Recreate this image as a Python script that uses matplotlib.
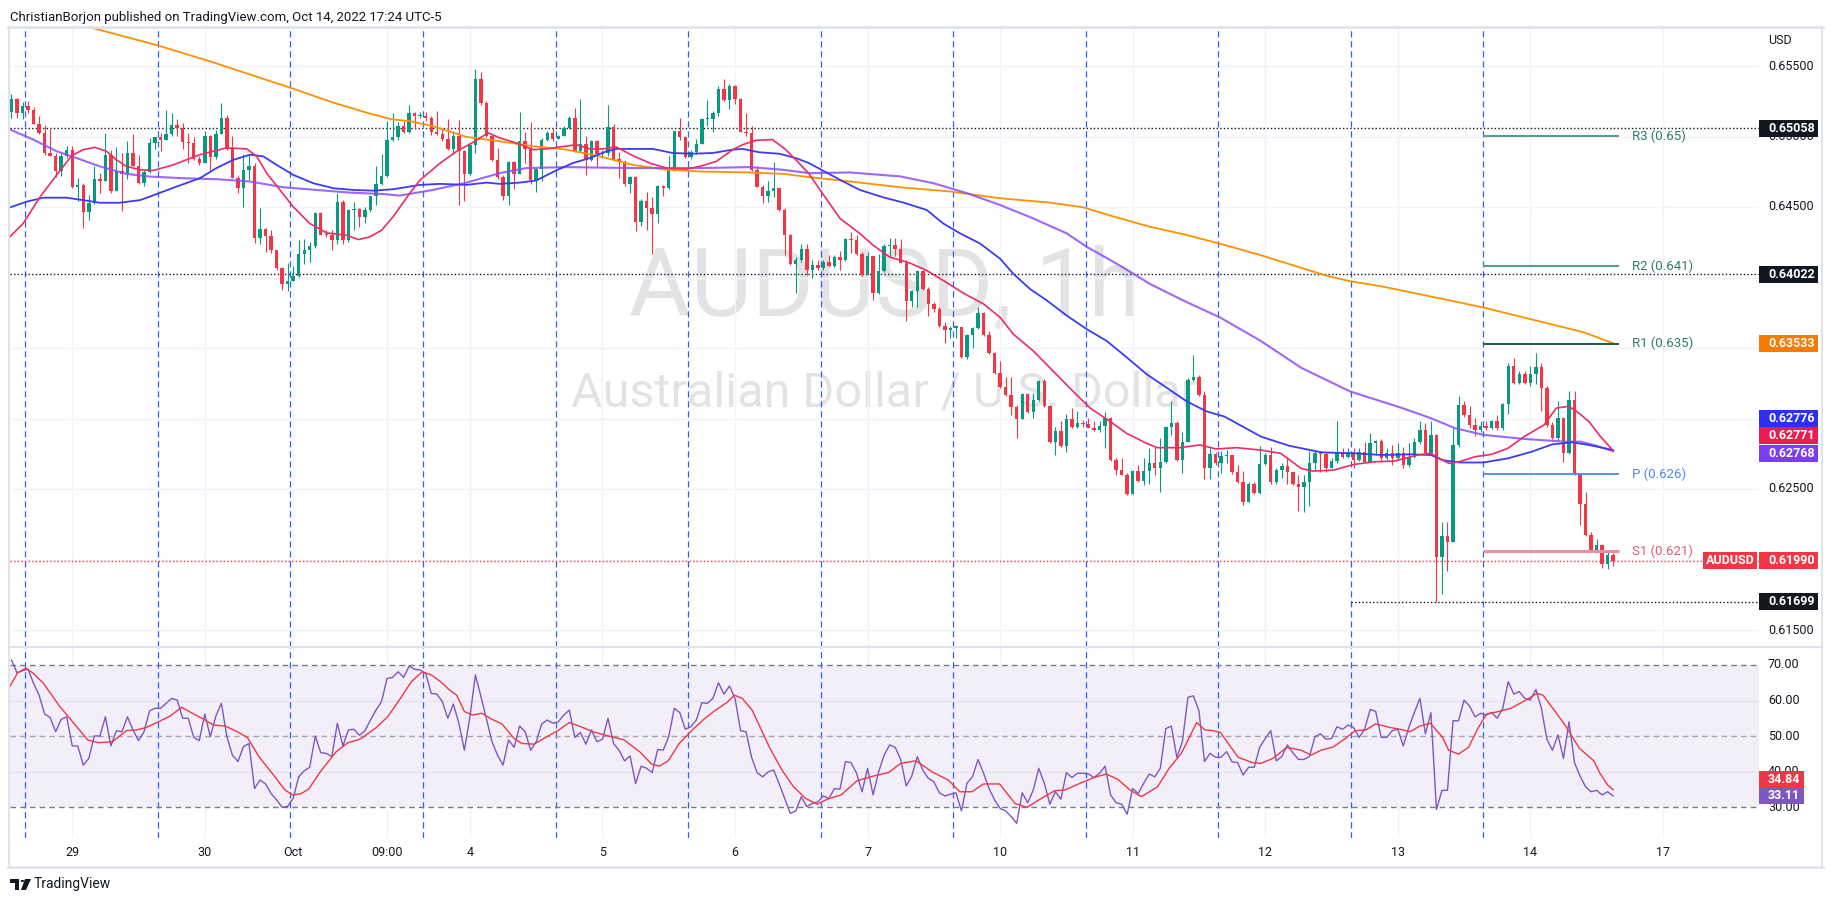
import numpy as np
import matplotlib.pyplot as plt
from matplotlib.patches import Rectangle, Polygon, Circle
from matplotlib.lines import Line2D

plt.rcParams['font.family'] = ['Roboto', 'DejaVu Sans']

W, H = 1833, 902

# hourly AUDUSD bars, bar 0 = Sep 28 16:00 (UTC-5); prices in pips (x 1e-4)
first_bar = -3
first_open = 6517.3
close_pips = [
    6526.4, 6516.9, 6521.6, 6518.8, 6509.2, 6502.6, 6488.3, 6486.4, 6475.2, 6486.4,
    6490.7, 6464.5, 6465.7, 6446.6, 6452.6, 6469.7, 6468.5, 6487.1, 6461.6, 6475.7,
    6473.5, 6488.3, 6479.2, 6467.3, 6475.0, 6495.4, 6499.7, 6497.8, 6502.1, 6508.5,
    6506.2, 6495.9, 6495.6, 6484.0, 6481.1, 6500.7, 6485.4, 6502.1, 6513.3, 6491.2,
    6470.9, 6463.8, 6476.4, 6479.2, 6428.1, 6434.7, 6429.2, 6419.3, 6406.6, 6395.4,
    6397.8, 6400.9, 6416.9, 6419.3, 6422.1, 6445.4, 6430.4, 6429.9, 6426.4, 6453.5,
    6426.9, 6447.8, 6448.3, 6443.1, 6447.8, 6457.8, 6466.4, 6472.1, 6497.8, 6499.7,
    6507.8, 6503.1, 6516.4, 6514.5, 6514.6, 6513.3, 6503.1, 6502.1, 6498.3, 6491.2,
    6500.7, 6489.5, 6473.5, 6494.2, 6541.1, 6523.5, 6500.7, 6483.5, 6471.2, 6457.8,
    6481.6, 6473.5, 6496.6, 6491.2, 6468.8, 6476.9, 6497.8, 6502.6, 6498.3, 6500.7,
    6505.7, 6513.3, 6489.5, 6495.0, 6483.5, 6496.6, 6487.8, 6488.3, 6507.0, 6484.0,
    6481.6, 6466.4, 6471.2, 6439.5, 6454.5, 6449.0, 6444.9, 6465.0, 6463.3, 6476.4,
    6503.8, 6499.7, 6485.4, 6488.8, 6495.0, 6512.1, 6512.6, 6516.9, 6534.0, 6525.9,
    6535.5, 6526.4, 6503.1, 6502.6, 6475.9, 6464.5, 6457.8, 6461.6, 6463.3, 6447.8,
    6429.9, 6409.7, 6412.1, 6420.4, 6405.4, 6409.0, 6406.9, 6411.0, 6407.9, 6414.5,
    6412.1, 6427.6, 6426.4, 6416.4, 6402.1, 6415.0, 6388.8, 6404.5, 6422.1, 6422.9,
    6420.5, 6410.2, 6383.6, 6390.7, 6404.5, 6391.9, 6381.2, 6377.6, 6365.7, 6362.6,
    6364.5, 6365.0, 6343.6, 6359.3, 6364.5, 6374.5, 6359.3, 6346.7, 6332.4, 6322.1,
    6316.9, 6307.9, 6299.8, 6317.4, 6304.5, 6313.3, 6326.9, 6308.6, 6283.1, 6291.2,
    6280.7, 6299.8, 6294.3, 6296.7, 6296.2, 6293.6, 6291.9, 6295.0, 6300.7, 6270.5,
    6263.3, 6260.2, 6246.7, 6262.6, 6255.5, 6262.6, 6268.1, 6264.6, 6269.3, 6294.3,
    6296.7, 6270.5, 6283.6, 6327.0, 6329.3, 6316.9, 6264.6, 6274.6, 6268.1, 6273.6,
    6274.1, 6262.2, 6255.0, 6240.7, 6253.8, 6247.4, 6267.6, 6274.1, 6255.0, 6263.4,
    6266.5, 6262.2, 6253.8, 6251.5, 6255.0, 6268.1, 6275.3, 6274.6, 6264.6, 6269.8,
    6275.3, 6272.9, 6276.5, 6270.5, 6276.0, 6269.3, 6282.4, 6284.1, 6271.7, 6275.3,
    6272.2, 6275.3, 6266.9, 6272.9, 6283.6, 6292.0, 6275.3, 6288.4, 6201.5, 6216.5,
    6212.2, 6281.2, 6309.3, 6302.6, 6295.5, 6291.9, 6295.0, 6293.6, 6297.9, 6293.1,
    6310.3, 6337.2, 6325.3, 6331.7, 6325.3, 6331.7, 6336.5, 6321.7, 6295.5, 6286.0,
    6300.7, 6275.3, 6313.4, 6260.3, 6239.6, 6217.4, 6205.5, 6210.3, 6196.7, 6203.0, 6199.0]
high_pips = [
    6530.0, 6527.6, 6524.5, 6525.2, 6521.1, 6514.5, 6508.5, 6505.0, 6488.3, 6488.3,
    6493.1, 6493.5, 6470.4, 6466.9, 6458.5, 6479.2, 6474.0, 6502.6, 6490.7, 6492.6,
    6488.3, 6496.6, 6502.1, 6487.1, 6476.4, 6499.0, 6499.9, 6502.6, 6518.5, 6516.9,
    6512.1, 6509.7, 6502.6, 6499.7, 6486.4, 6503.8, 6501.4, 6504.5, 6523.5, 6515.0,
    6500.7, 6472.8, 6487.8, 6487.1, 6481.1, 6449.0, 6435.4, 6434.0, 6419.7, 6407.8,
    6410.2, 6408.5, 6426.9, 6427.6, 6425.2, 6446.6, 6446.6, 6433.5, 6433.5, 6460.2,
    6454.9, 6448.3, 6453.7, 6449.0, 6450.2, 6457.9, 6479.2, 6487.6, 6510.9, 6516.9,
    6510.2, 6510.9, 6522.1, 6517.3, 6517.3, 6517.3, 6514.5, 6518.1, 6505.0, 6512.6,
    6503.8, 6511.6, 6490.7, 6494.7, 6547.8, 6545.4, 6525.2, 6501.4, 6491.9, 6472.8,
    6482.3, 6482.3, 6517.3, 6503.1, 6510.2, 6477.6, 6499.0, 6503.8, 6506.2, 6501.4,
    6507.8, 6514.5, 6520.4, 6526.4, 6500.7, 6497.8, 6497.8, 6490.7, 6522.1, 6509.2,
    6488.8, 6483.1, 6472.1, 6472.1, 6455.5, 6460.9, 6457.3, 6465.7, 6465.7, 6485.9,
    6504.0, 6513.3, 6500.7, 6490.2, 6498.3, 6513.3, 6525.7, 6518.1, 6535.5, 6541.1,
    6537.1, 6536.4, 6527.6, 6516.9, 6507.8, 6478.8, 6465.7, 6468.1, 6481.6, 6464.0,
    6449.0, 6430.7, 6414.5, 6423.5, 6423.5, 6412.1, 6412.1, 6412.1, 6415.7, 6415.7,
    6418.8, 6428.3, 6432.4, 6430.0, 6418.1, 6418.1, 6415.0, 6416.4, 6423.6, 6428.3,
    6428.3, 6427.6, 6412.1, 6391.2, 6405.0, 6405.0, 6393.1, 6382.4, 6378.8, 6368.1,
    6365.7, 6366.4, 6365.0, 6360.2, 6364.9, 6379.3, 6375.2, 6362.1, 6347.4, 6340.7,
    6329.3, 6329.3, 6309.8, 6317.9, 6318.1, 6318.1, 6327.6, 6328.3, 6309.3, 6294.3,
    6297.9, 6303.1, 6307.4, 6305.0, 6299.0, 6300.2, 6298.3, 6298.3, 6304.5, 6301.4,
    6272.1, 6272.1, 6261.7, 6263.4, 6266.9, 6271.7, 6278.8, 6280.0, 6286.0, 6294.8,
    6312.6, 6297.9, 6290.7, 6328.4, 6345.0, 6330.7, 6319.3, 6278.8, 6276.5, 6276.9,
    6277.6, 6270.5, 6266.9, 6263.0, 6255.0, 6255.0, 6280.7, 6275.3, 6280.0, 6264.6,
    6268.6, 6272.9, 6262.2, 6259.8, 6259.8, 6276.9, 6277.6, 6277.0, 6276.5, 6271.7,
    6297.9, 6278.8, 6278.8, 6278.8, 6278.8, 6283.6, 6289.5, 6284.8, 6285.5, 6278.8,
    6281.2, 6282.4, 6280.0, 6282.4, 6286.0, 6298.4, 6296.7, 6297.9, 6288.9, 6226.9,
    6226.5, 6293.1, 6315.7, 6312.2, 6308.6, 6300.2, 6297.9, 6297.9, 6299.1, 6302.6,
    6311.0, 6339.6, 6343.1, 6333.6, 6333.6, 6337.2, 6346.7, 6339.6, 6322.9, 6297.4,
    6312.6, 6301.4, 6319.8, 6319.8, 6261.0, 6247.9, 6219.3, 6214.5, 6211.0, 6206.2, 6204.5]
low_pips = [
    6513.3, 6513.3, 6512.1, 6516.4, 6509.2, 6502.1, 6487.1, 6485.9, 6471.6, 6472.1,
    6484.7, 6463.3, 6454.5, 6435.4, 6440.7, 6451.9, 6459.7, 6468.5, 6459.7, 6461.6,
    6447.3, 6469.7, 6478.8, 6466.4, 6465.0, 6474.0, 6491.2, 6489.5, 6497.8, 6500.2,
    6500.7, 6491.2, 6481.1, 6483.1, 6479.9, 6481.1, 6476.4, 6484.0, 6502.1, 6490.7,
    6470.4, 6459.7, 6450.2, 6469.2, 6424.5, 6424.0, 6418.1, 6417.6, 6405.0, 6391.2,
    6390.2, 6397.8, 6400.2, 6409.7, 6410.9, 6421.2, 6429.9, 6428.8, 6419.3, 6423.5,
    6423.5, 6425.2, 6433.5, 6435.9, 6438.8, 6446.6, 6451.4, 6465.7, 6471.6, 6496.6,
    6497.3, 6502.6, 6502.6, 6505.5, 6513.3, 6510.9, 6501.4, 6501.4, 6496.6, 6490.7,
    6487.8, 6451.4, 6454.5, 6472.8, 6488.3, 6522.1, 6499.7, 6482.3, 6469.7, 6454.9,
    6451.4, 6462.6, 6473.5, 6481.1, 6466.4, 6460.9, 6468.1, 6496.6, 6496.6, 6498.3,
    6500.2, 6505.0, 6488.8, 6488.8, 6472.8, 6482.3, 6478.3, 6484.7, 6486.4, 6483.5,
    6470.4, 6465.0, 6460.2, 6432.8, 6436.4, 6434.0, 6416.9, 6438.3, 6457.8, 6462.6,
    6475.2, 6497.3, 6484.7, 6484.0, 6487.8, 6495.0, 6507.3, 6503.1, 6514.5, 6525.2,
    6519.7, 6522.8, 6503.1, 6500.2, 6475.2, 6464.0, 6453.0, 6453.8, 6457.3, 6447.3,
    6415.7, 6409.2, 6388.8, 6410.9, 6402.1, 6399.8, 6405.5, 6405.5, 6407.4, 6407.4,
    6405.0, 6411.7, 6417.4, 6415.7, 6401.4, 6402.1, 6384.0, 6388.3, 6403.8, 6415.0,
    6415.0, 6410.2, 6369.3, 6378.8, 6379.3, 6391.2, 6372.9, 6375.2, 6365.0, 6353.8,
    6357.4, 6357.4, 6343.1, 6341.9, 6350.2, 6363.3, 6358.6, 6346.0, 6331.7, 6321.7,
    6315.7, 6302.6, 6286.4, 6299.8, 6303.8, 6300.2, 6312.6, 6307.9, 6282.4, 6274.0,
    6280.0, 6276.0, 6293.6, 6293.6, 6294.3, 6293.1, 6291.2, 6290.2, 6279.3, 6269.8,
    6259.8, 6259.8, 6245.5, 6248.4, 6254.8, 6253.1, 6253.8, 6259.8, 6247.9, 6268.1,
    6288.4, 6269.8, 6261.0, 6283.6, 6326.5, 6315.7, 6256.9, 6256.9, 6266.9, 6261.0,
    6268.1, 6260.3, 6254.0, 6238.8, 6240.5, 6246.7, 6246.7, 6266.9, 6253.8, 6253.8,
    6257.9, 6253.8, 6253.1, 6234.1, 6233.6, 6237.9, 6263.4, 6262.2, 6262.2, 6264.6,
    6268.1, 6271.7, 6271.7, 6264.6, 6269.8, 6268.8, 6272.9, 6274.1, 6269.3, 6270.5,
    6267.0, 6270.5, 6264.6, 6265.7, 6272.2, 6281.7, 6274.6, 6274.1, 6169.9, 6175.3,
    6191.9, 6212.6, 6280.0, 6301.4, 6293.6, 6287.9, 6290.7, 6291.9, 6292.4, 6291.9,
    6291.9, 6303.1, 6324.6, 6324.6, 6324.6, 6322.9, 6324.6, 6305.5, 6294.3, 6285.5,
    6284.8, 6268.8, 6274.6, 6259.8, 6224.6, 6216.9, 6205.0, 6204.5, 6194.3, 6193.1, 6195.5]

# moving averages, points (bar, pips)
ma_red_x = [-3.3, -0.9, 2.2, 5.2, 7.9, 10, 12.1, 14.2, 16, 17.8, 20.3, 22.7, 26.3, 28.7, 31.1,
            33.5, 35.9, 39.6, 41.4, 43.2, 45.6, 48, 51, 54.1, 57.7, 59.8, 61.9, 64, 66.1, 69.1,
            71, 74.6, 77.6, 80.6, 83.3, 85.4, 88.4, 91.5, 93.9, 96.3, 99.3, 101.7, 104.1, 106.5,
            109.5, 112.6, 115.6, 119.2, 121.6, 124.6, 127.6, 129.4, 131.8, 134.8, 137.2, 139.6,
            141.4, 143.4, 147, 150.6, 153, 156, 159.7, 162.7, 165.7, 169.4, 173, 176, 178.4, 182,
            185.6, 189.2, 192.3, 195.9, 198.9, 202.5, 204.5, 208.5, 212.2, 215.1, 218.8, 223.2,
            226.8, 230.5, 232.7, 236.4, 240, 243.8, 247.4, 251.6, 254, 256.1, 257.3, 259.1, 262,
            265, 267.9, 270.9, 274.5, 276.7, 278.9, 280.4, 282.6, 284.7, 287]
ma_red_y = [6428.8, 6438.3, 6457.3, 6472.8, 6486.4, 6490.7, 6492.3, 6489.5, 6483.5, 6478.8,
            6476.4, 6475.9, 6479.9, 6483.5, 6487.1, 6489.5, 6491.9, 6491.2, 6485.9, 6474.0,
            6462.1, 6450.2, 6438.3, 6431.6, 6429.9, 6426.9, 6428.8, 6433.5, 6443.1, 6459.7,
            6469.2, 6481.1, 6489.5, 6495.9, 6502.6, 6499.0, 6495.4, 6490.7, 6491.2, 6492.6,
            6494.2, 6491.2, 6491.2, 6492.6, 6486.4, 6481.1, 6477.6, 6476.9, 6478.8, 6482.3,
            6490.7, 6494.2, 6497.3, 6497.8, 6490.7, 6481.1, 6473.5, 6462.1, 6441.9, 6431.2,
            6422.9, 6414.5, 6410.2, 6405.0, 6397.9, 6388.8, 6381.2, 6371.7, 6359.8, 6347.9,
            6333.6, 6319.3, 6307.4, 6297.9, 6289.5, 6282.4, 6279.3, 6279.3, 6281.2, 6278.4,
            6279.3, 6277.6, 6275.3, 6264.6, 6262.7, 6263.4, 6267.4, 6269.3, 6269.8, 6274.1,
            6275.3, 6270.5, 6268.1, 6269.3, 6272.9, 6274.6, 6278.8, 6287.2, 6295.5, 6307.4,
            6308.6, 6305.0, 6297.9, 6287.2, 6277.1]
ma_blue_x = [-3.3, -0.25, 2.8, 7, 10.6, 13, 16.6, 20.3, 23.3, 26.9, 31.1, 34.1, 37.2, 40.2, 42.6,
             45, 48, 51.6, 55.3, 58.9, 62.5, 66.1, 69.1, 71, 74.6, 79.4, 83, 85.4, 89, 92, 95.6,
             98.6, 101.7, 104.7, 106.5, 109.5, 113.1, 116.7, 120.3, 124, 127.6, 129.4, 132.4, 136,
             139, 141.4, 143.4, 147, 150.6, 154.8, 158.5, 162.7, 165.7, 168.8, 172.4, 176, 178.4,
             181.4, 184.5, 188.1, 191.7, 195.3, 199, 202.6, 206.2, 209.8, 213.4, 216.6, 223.2,
             228.3, 234.2, 240, 245.2, 250.3, 254, 256.1, 259.1, 263.5, 267.9, 272.3, 276, 279.6,
             282.6, 287]
ma_blue_y = [6449.7, 6453.8, 6456.6, 6456.6, 6454.5, 6453.0, 6453.0, 6454.9, 6459.2, 6464.5,
             6470.4, 6477.6, 6483.5, 6487.1, 6485.9, 6479.9, 6472.8, 6466.9, 6463.3, 6462.1,
             6461.6, 6462.6, 6464.5, 6465.7, 6466.4, 6465.7, 6467.3, 6466.4, 6467.3, 6468.8,
             6475.9, 6481.1, 6484.7, 6489.5, 6491.2, 6491.2, 6491.2, 6488.3, 6487.8, 6488.3,
             6490.7, 6491.2, 6488.8, 6487.8, 6484.7, 6481.1, 6476.9, 6469.3, 6462.1, 6456.9,
             6453.1, 6447.9, 6438.3, 6431.2, 6424.0, 6413.3, 6402.6, 6391.9, 6383.6, 6372.9,
             6363.3, 6355.0, 6343.1, 6331.2, 6321.7, 6312.1, 6305.0, 6301.4, 6287.2, 6280.7,
             6276.0, 6275.3, 6274.1, 6274.6, 6274.1, 6270.5, 6268.8, 6268.8, 6271.7, 6276.5,
             6281.7, 6283.1, 6281.2, 6277.6]
ma_purple_x = [-3.3, 0.95, 5.2, 8.8, 13, 17.8, 22, 28.1, 34.1, 40.2, 46.2, 52.2, 58.3, 64.3, 67.3,
               73.3, 79.4, 85.4, 90.2, 97.5, 109.5, 121.6, 130.6, 136.7, 141.4, 148.8, 157.9,
               163.9, 170, 176, 182, 188.1, 191.7, 197.1, 203.1, 209.2, 215.8, 223.2, 230.5,
               239.3, 248.8, 254, 258.4, 263.5, 270.9, 278.2, 281.1, 284, 287]
ma_purple_y = [6505.0, 6497.8, 6489.5, 6484.7, 6478.8, 6473.5, 6471.6, 6470.4, 6469.7, 6468.1,
               6464.0, 6462.1, 6460.2, 6459.2, 6458.1, 6462.1, 6467.3, 6474.0, 6477.6, 6478.3,
               6477.6, 6477.6, 6478.3, 6476.4, 6474.0, 6474.5, 6471.7, 6466.9, 6459.8, 6451.4,
               6441.9, 6431.2, 6421.7, 6409.8, 6395.5, 6383.6, 6371.7, 6355.0, 6336.0, 6319.3,
               6307.4, 6300.2, 6293.1, 6288.4, 6285.5, 6283.6, 6283.6, 6280.7, 6276.8]
ma_orange_x = [-3.5, 10.3, 23.5, 33.5, 47.4, 55.3, 61.3, 65.8, 69.1, 73.3, 79.4, 85.4, 91.5, 97.5,
               103.5, 109.5, 115.6, 121.6, 130.6, 136.7, 141.4, 148.8, 157.9, 166.9, 176, 185,
               191, 197.1, 203.1, 209.2, 215.8, 223.2, 234.9, 239.3, 245.2, 256.1, 263.4, 274.5,
               281.8, 287]
ma_orange_y = [6592.0, 6578.4, 6564.6, 6552.6, 6534.7, 6524.0, 6516.9, 6512.2, 6510.9, 6507.3,
               6499.7, 6496.6, 6493.1, 6490.7, 6485.9, 6479.9, 6476.4, 6475.2, 6474.5, 6473.5,
               6471.2, 6468.1, 6464.0, 6461.0, 6456.2, 6453.1, 6449.8, 6442.6, 6436.0, 6430.7,
               6424.0, 6415.8, 6401.5, 6397.4, 6393.6, 6384.8, 6378.8, 6368.1, 6361.0, 6353.3]

# RSI(14), one value per bar from bar -3
rsi = [
    71.4, 67.8, 68.4, 68.8, 64.8, 61.5, 56.2, 55.2, 51.2, 54.7,
    55.4, 47.2, 47.2, 41.8, 43.7, 50.0, 50.0, 55.4, 47.2, 51.5,
    51.2, 55.4, 51.7, 48.7, 51.2, 57.1, 57.8, 57.8, 59.2, 60.6,
    60.1, 55.0, 55.0, 49.6, 48.7, 56.2, 49.8, 55.6, 59.2, 49.8,
    44.6, 42.8, 47.0, 47.9, 35.2, 37.6, 36.5, 33.8, 32.0, 29.9,
    30.2, 32.4, 38.5, 40.2, 41.2, 50.0, 45.3, 45.1, 44.2, 53.6,
    47.2, 51.7, 51.9, 50.2, 51.5, 54.5, 57.3, 59.7, 66.2, 66.5,
    68.1, 66.5, 69.7, 68.8, 68.6, 67.6, 62.0, 61.8, 59.7, 55.0,
    59.0, 53.6, 46.0, 55.4, 67.2, 61.1, 54.7, 48.4, 44.6, 41.8,
    48.9, 46.8, 52.8, 51.2, 46.0, 48.4, 53.4, 54.5, 53.6, 54.0,
    55.9, 57.3, 49.6, 51.0, 47.7, 51.7, 48.4, 49.1, 55.0, 47.9,
    46.0,
    43.0, 44.4, 36.6, 41.5, 40.9, 39.7, 46.2, 46.0, 49.8, 57.8,
    56.6, 51.9, 52.6, 54.5, 59.4, 59.2, 60.6, 65.0, 61.8, 64.1,
    60.6, 51.5, 51.2, 44.0, 39.7, 38.5, 39.9, 40.4, 36.5, 32.4,
    28.2, 28.9, 32.9, 30.1, 31.0, 31.5, 33.1, 32.4, 35.2, 35.0,
    42.8, 42.5, 39.5, 34.3, 40.9, 33.4, 39.9, 44.6, 47.5, 46.8,
    43.4, 35.9, 38.7, 44.2, 40.4, 38.1, 37.1, 34.0, 33.1, 33.6,
    34.0, 28.9, 36.7, 38.5, 43.4, 39.5, 35.2, 32.0, 29.6, 28.9,
    27.3, 25.4, 34.0, 31.2, 34.8, 40.9, 36.7, 30.8, 34.3, 32.2,
    39.7, 38.3, 39.5, 39.5, 39.3, 38.3, 39.5, 41.5, 33.4, 31.2,
    30.8, 28.0, 35.2, 33.8, 36.7, 39.3, 38.5, 40.9, 52.1, 52.8,
    44.0, 48.4, 60.9, 61.3, 57.1, 42.8, 45.1, 44.0, 44.0,
    45.6, 42.7, 42.5, 39.0, 41.2, 41.2, 46.8, 49.3, 51.5, 43.0,
    44.2, 47.5, 45.3, 43.4, 43.4, 44.2, 49.8, 50.6, 49.1, 49.3,
    52.6, 51.9, 53.1, 52.4, 49.6, 51.9, 57.5, 56.9, 49.6, 49.6,
    51.5, 51.9, 47.2, 52.4, 56.6, 60.6, 50.6, 56.6, 29.3, 34.7,
    34.7, 54.3, 54.3, 60.1, 58.4, 55.4, 56.4, 55.9, 56.6, 55.0,
    57.8, 65.3, 61.8, 62.5, 60.6, 60.1, 63.1, 57.8, 49.1, 46.0,
    50.3, 43.7, 54.0, 42.5, 38.7, 35.7, 34.3, 34.7, 33.4, 34.3, 33.11]
rsi_ma_x = [-3.3, -1.9, -0.4, 1, 2.8, 5.7, 7.8, 10.8, 12.8, 15.3, 17.8, 19.6, 21.4, 23.6, 25.7,
            27.8, 30, 31.8, 33.6, 35.7, 37.9, 39.7, 41.8, 44.7, 46.5, 47.9, 49.3, 50.8, 52.9,
            55.8, 57.9, 60.1, 62.9, 65.1, 67.2, 69.4, 71.4, 73, 74.7, 76.2, 77.6, 79, 80.5, 82.2,
            84, 85.8, 88, 89.4, 91.6, 93.7, 95.9, 98, 100.1, 102.3, 104.4, 107.9, 110.7, 112.9,
            114.3, 115.9, 117.9, 120.4, 122.2, 124.3, 126.5, 127.9, 129.3, 131.1, 132.5, 134.3,
            136.5, 138.6, 140.8, 142.9, 144.7, 147.2, 150.1, 153, 155.8, 158, 160.8, 163.7,
            166.6, 168.7, 170.9, 173, 175.9, 178.7, 180.9, 183, 185.9, 187.7, 190.2, 193, 195.2,
            197.3, 199.5, 201.6, 204.5, 206.6, 208.8, 211.6, 213.1, 214.5, 215.9, 217.3, 219.1,
            221.7, 223.2, 225.4, 227.9, 230.5, 232.3, 234.1, 236.3, 238.5, 240.3, 242.2, 244,
            246.6, 248.4, 250.2, 252, 253.9, 256.1, 257.2, 259, 260.8, 262.6, 264.1, 266.3,
            268.5, 271.4, 273.2, 274.3, 276.5, 278.4, 280.9, 283.5, 284.6, 286, 287]
rsi_ma_y = [63.9, 67.8, 69.1, 67.6, 64.8, 58.4, 54.5, 48.9, 48.1, 48.4, 51.5, 51.7, 52.4, 54.0,
            55.6, 58.1, 56.2, 54.7, 53.1, 52.8, 51.2, 49.6, 44.2, 38.5, 34.8, 33.4, 33.7, 35.0,
            39.9, 45.6, 48.1, 49.1, 52.2, 55.4, 60.1, 65.3, 68.1, 67.2, 65.3, 63.1, 61.5, 56.9,
            55.9, 56.4, 54.7, 53.4, 49.3, 47.9, 47.7, 49.6, 51.5, 53.8, 52.6, 51.2, 50.3, 48.9,
            45.6, 42.1, 41.5, 43.0, 47.9, 51.9, 54.5, 57.1, 59.4, 61.5, 60.6, 57.3, 52.6, 46.6,
            40.4, 35.7, 32.4, 30.8, 32.2, 33.4, 37.4, 38.7, 39.7, 42.3, 43.0, 39.9, 37.6, 34.3,
            34.3, 36.5, 36.5, 31.0, 29.9, 32.0, 34.6, 34.8, 36.5, 38.3, 39.3, 37.8, 34.8, 32.9,
            35.7, 40.9, 45.1, 53.8, 51.7, 51.5, 51.0, 47.9, 44.0, 42.5, 42.3, 43.7, 46.8, 46.0,
            44.6, 46.0, 46.9, 49.3, 51.5, 51.7, 53.4, 52.4, 51.9, 51.2, 52.8, 53.6, 49.6, 46.0,
            44.9, 46.8, 52.4, 56.2, 56.9, 57.8, 60.3, 62.0, 61.5, 56.9, 52.8, 46.5, 43.0, 39.5,
            36.2, 34.84]

# pivot points (Oct 14 session)
pivot_labels = ['R3 (0.65)', 'R2 (0.641)', 'R1 (0.635)', 'P (0.626)', 'S1 (0.621)']
pivot_levels = [0.65002, 0.64081, 0.63530, 0.62607, 0.62057]
pivot_start, pivot_end = 263.5, 288

# horizontal levels drawn on the chart
level_top = 0.65058
level_mid = 0.64022
level_low = 0.61699
level_low_from = 239.5
last_price = 0.61990
ma_last = [0.62776, 0.62771, 0.62768]
ma200_last = 0.63533

day_labels = ['29', '30', 'Oct', '09:00', '4', '5', '6', '7', '10', '11', '12', '13', '14', '17']
day_bars = [8, 32, 48, 65, 80, 104, 128, 152, 176, 200, 224, 248, 272, 296]
session_bars = np.arange(-0.5, 264, 24)
price_grid = [0.655, 0.650, 0.645, 0.640, 0.635, 0.630, 0.625, 0.620, 0.615]
price_labels = [0.655, 0.650, 0.645, 0.625, 0.615]   # the others sit under badges
rsi_ticks = [70, 60, 50, 40, 30]

GREEN, RED = '#089981', '#f23645'
C_RED, C_BLUE, C_PURPLE, C_ORANGE = '#ee2c63', '#3b3bf6', '#8c4dfb', '#ff9100'
GRID = '#f0f3fa'
TXT = '#131722'

c = np.array(close_pips) / 1e4
o = np.concatenate([[first_open / 1e4], c[:-1]])
hi = np.maximum(np.array(high_pips) / 1e4, np.maximum(o, c))
lo = np.minimum(np.array(low_pips) / 1e4, np.minimum(o, c))
bars = np.arange(first_bar, first_bar + len(c))

fig = plt.figure(figsize=(W / 100, H / 100), dpi=100)
fig.patch.set_facecolor('white')

ax = fig.add_axes([10 / W, 1 - 647 / H, 1749 / W, 620 / H])
ax2 = fig.add_axes([10 / W, 1 - 838 / H, 1749 / W, 191 / H])
xmin, xmax = -3.27, 313.4
for a in (ax, ax2):
    a.set_xlim(xmin, xmax)
    a.axis('off')
ax.set_ylim(0.645 - 440 / 14100, 0.645 + 180 / 14100)
ax2.set_ylim(21.27, 75.07)

# grid + session breaks
for p in price_grid:
    ax.axhline(p, color=GRID, lw=1, zorder=0.5)
for r in (40, 60):
    ax2.axhline(r, color='#e6e3ef', lw=1, zorder=0.6)
for a in (ax, ax2):
    for b in day_bars:
        a.axvline(b, color=GRID, lw=1, zorder=0.5)
    for s in session_bars:
        a.axvline(s, color='#2962ff', lw=0.9, ls=(0, (5, 3)), zorder=1)

# watermark
ax.text(885 / W, 1 - 289 / H, 'AUDUSD, 1h', transform=fig.transFigure, fontsize=68,
        color='#e3e3e3', ha='center', va='center', zorder=0.2)
ax.text(884 / W, 1 - 393 / H, 'Australian Dollar / U.S. Dollar', transform=fig.transFigure,
        fontsize=35, color='#e3e3e3', ha='center', va='center', zorder=0.2)

# candles
cols = np.where(c >= o, GREEN, RED)
ax.vlines(bars, lo, hi, colors=cols, lw=0.8, zorder=3)
ax.bar(bars, np.maximum(np.abs(c - o), 0.00008), bottom=np.minimum(o, c), width=0.62,
       color=cols, linewidth=0, zorder=3.1)

# moving averages
ax.plot(ma_orange_x, np.array(ma_orange_y) / 1e4, color=C_ORANGE, lw=1.3, zorder=4)
ax.plot(ma_purple_x, np.array(ma_purple_y) / 1e4, color=C_PURPLE, lw=1.5, alpha=0.85, zorder=4)
ax.plot(ma_blue_x, np.array(ma_blue_y) / 1e4, color=C_BLUE, lw=1.3, zorder=4)
ax.plot(ma_red_x, np.array(ma_red_y) / 1e4, color=C_RED, lw=1.2, zorder=4)

# levels
dot = (0, (1, 1.6))
ax.axhline(level_top, color=TXT, lw=1, ls=dot, zorder=2)
ax.axhline(level_mid, color=TXT, lw=1, ls=dot, zorder=2)
ax.hlines(level_low, level_low_from, xmax, color=TXT, lw=1, ls=dot, zorder=2)
ax.axhline(last_price, color=RED, lw=1, ls=dot, zorder=2)

# pivots
piv_line = ['#5c9c8c', '#5c9c8c', '#1f5f51', '#4f86f7', '#ea8fa5']
piv_text = ['#2f7d6d', '#2f7d6d', '#2f7d6d', '#4f86f7', '#e05a78']
piv_lw = [1.5, 1.5, 1.5, 1.3, 2.2]
for lab, lev, lc, tc, lw in zip(pivot_labels, pivot_levels, piv_line, piv_text, piv_lw):
    ax.hlines(lev, pivot_start, pivot_end, color=lc, lw=lw, zorder=5)
    ax.text(290.4, lev, lab, color=tc, fontsize=9.5, va='center', ha='left', zorder=5)

# RSI panel
ax2.axhspan(30, 70, color='#7e57c2', alpha=0.09, lw=0, zorder=0.3)
ax2.axhline(70, color='#787b86', lw=1, ls=(0, (4, 3)), zorder=1.5)
ax2.axhline(30, color='#787b86', lw=1, ls=(0, (4, 3)), zorder=1.5)
ax2.axhline(50, color='#a3a6af', lw=1, ls=(0, (4, 3)), zorder=1.5)
ax2.plot(np.arange(first_bar, first_bar + len(rsi)), rsi, color='#7e57c2', lw=1.0, zorder=3)
ax2.plot(rsi_ma_x, rsi_ma_y, color=RED, lw=1.0, zorder=3.2)


def ypix(a, v):
    return H - a.transData.transform((0, v))[1]


def fline(x0, y0, x1, y1, color='#e0e3eb', lw=1.6):
    fig.add_artist(Line2D([x0 / W, x1 / W], [1 - y0 / H, 1 - y1 / H], transform=fig.transFigure,
                          color=color, lw=lw, zorder=1))


def badge(yc, text, color, x0=1759, x1=1818, h=17, tx=1768, ha='left'):
    fig.add_artist(Rectangle((x0 / W, 1 - (yc + h / 2) / H), (x1 - x0) / W, h / H,
                             transform=fig.transFigure, fc=color, ec='none', zorder=6))
    fig.text(tx / W, 1 - yc / H, text, color='white', fontsize=9, fontweight='bold',
             ha=ha, va='center', zorder=7)


# frame
fline(8, 27, 1823, 27, lw=2)
fline(8, 867, 1823, 867, lw=2)
fline(9, 27, 9, 867, lw=1.5)
fline(1822, 27, 1822, 867, lw=1.5)
fline(9, 647, 1822, 647, lw=1.5)

fig.text(10 / W, 1 - 17 / H, 'ChristianBorjon published on TradingView.com, Oct 14, 2022 17:24 UTC-5',
         fontsize=9.5, color=TXT, va='center', ha='left')

# price axis
fig.text(1768 / W, 1 - 40 / H, 'USD', fontsize=9, color=TXT, va='center')
for p in price_labels:
    fig.text(1768 / W, 1 - ypix(ax, p) / H, f'{p:.5f}', fontsize=9, color=TXT, va='center')
badge(ypix(ax, level_top), f'{level_top:.5f}', TXT)
badge(ypix(ax, level_mid), f'{level_mid:.5f}', TXT)
badge(ypix(ax, ma200_last), f'{ma200_last:.5f}', '#f57c00')
yb = ypix(ax, ma_last[2]) + 2
badge(yb - 35, f'{ma_last[0]:.5f}', '#2f2ff2')
badge(yb - 17.5, f'{ma_last[1]:.5f}', '#e91e50')
badge(yb, f'{ma_last[2]:.5f}', '#7c3cf0')
badge(ypix(ax, last_price), f'{last_price:.5f}', RED)
badge(ypix(ax, last_price), 'AUDUSD', RED, x0=1703, x1=1757, tx=1730, ha='center')
badge(ypix(ax, level_low), f'{level_low:.5f}', TXT)

# rsi axis
for r in rsi_ticks:
    fig.text(1768 / W, 1 - ypix(ax2, r) / H, f'{r:.2f}', fontsize=9, color=TXT, va='center')
y_rsi = ypix(ax2, rsi[-1])
badge(y_rsi, f'{rsi[-1]:.2f}', '#7e57c2', x1=1804)
badge(y_rsi - 16.5, f'{rsi_ma_y[-1]:.2f}', RED, x1=1804)

# time axis
for b, lab in zip(day_bars, day_labels):
    xp = ax2.transData.transform((b, 0))[0]
    fig.text(xp / W, 1 - 852 / H, lab, fontsize=9, color=TXT, ha='center', va='center')

# TradingView logo
fig.add_artist(Rectangle((10 / W, 1 - 883 / H), 9 / W, 4 / H, transform=fig.transFigure,
                         fc=TXT, ec='none'))
fig.add_artist(Rectangle((15 / W, 1 - 890 / H), 4 / W, 11 / H, transform=fig.transFigure,
                         fc=TXT, ec='none'))
fig.add_artist(Circle((22.5 / W, 1 - 881 / H), 2 / W, transform=fig.transFigure, fc=TXT, ec='none'))
fig.add_artist(Polygon([(25 / W, 1 - 879 / H), (31 / W, 1 - 879 / H), (26 / W, 1 - 890 / H),
                        (21 / W, 1 - 890 / H)], closed=True, transform=fig.transFigure,
                       fc=TXT, ec='none'))
fig.text(34 / W, 1 - 884 / H, 'TradingView', fontsize=10, color=TXT, va='center', ha='left')

fig.savefig('out.png', dpi=100, facecolor='white')
